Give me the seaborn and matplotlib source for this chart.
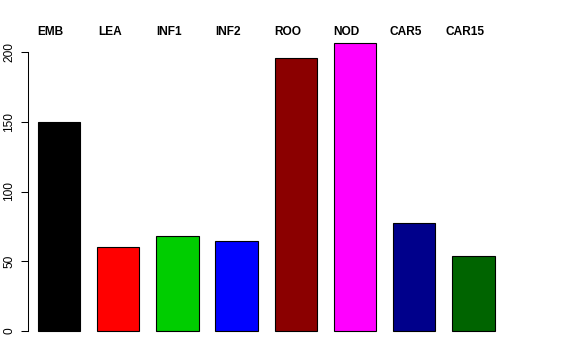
import matplotlib
matplotlib.use("Agg")
import matplotlib.pyplot as plt
import seaborn as sns
import pandas as pd

categories = ["EMB", "LEA", "INF1", "INF2", "ROO", "NOD", "CAR5", "CAR15"]
values = [150, 60, 68, 64.3, 195.5, 206.3, 77.6, 54]
colors = ["#000000", "#FF0000", "#00CD00", "#0000FF", "#8B0000", "#FF00FF", "#00008B", "#006400"]
yticks = [0, 50, 100, 150, 200]

sns.set_style("white")
plt.rcParams["font.family"] = ["Liberation Sans", "DejaVu Sans"]
plt.rcParams["text.color"] = "black"
plt.rcParams["ytick.color"] = "black"
plt.rcParams["ytick.labelcolor"] = "black"

df = pd.DataFrame({"cat": categories, "val": values})

fig = plt.figure(figsize=(5.76, 3.6), dpi=100)
ax = fig.add_axes([28/576, 17.5/360, 476.4/576, 310.7/360])

sns.barplot(data=df, x="cat", y="val", hue="cat", palette=colors, legend=False,
            width=0.714, edgecolor="black", linewidth=0.8, saturation=1, ax=ax)

ax.set_xlim(-0.524, 7.524)
ax.set_ylim(-8.25, 214.5)
ax.set_xlabel("")
ax.set_ylabel("")
ax.set_xticks([])
ax.set_yticks(yticks)
ax.set_yticklabels([str(t) for t in yticks], rotation=90, va="center", fontsize=8.6, color="black")
ax.tick_params(axis="y", length=5.2, width=0.75, pad=4, color="black", left=True)
for s in ["top", "right", "bottom"]:
    ax.spines[s].set_visible(False)
ax.spines["left"].set_bounds(0, 200)
ax.spines["left"].set_linewidth(0.75)
ax.spines["left"].set_color("black")

for i, c in enumerate(categories):
    ax.text(i - 0.14, 212, c, ha="center", va="baseline", fontsize=8.6,
            fontweight="bold", color="black", clip_on=False)

fig.savefig("out.png", dpi=100)
